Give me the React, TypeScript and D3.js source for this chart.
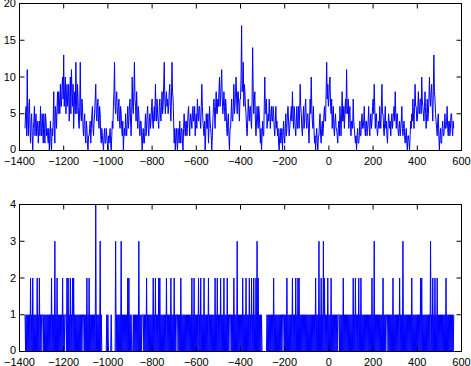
import { useEffect, useRef } from "react";
import * as d3 from "d3";

// sample positions: start at -1375, one value every 2.5 units
const xStart = -1375;
const xStep = 2.5;

// upper panel (one row = 50 units)
const topCounts = [
  3, 5, 6, 2, 11, 4, 2, 6, 7, 3, 1, 4, 5, 2, 0, 3, 4, 6, 2, 4,
  5, 2, 3, 4, 1, 3, 4, 2, 6, 3, 2, 5, 3, 1, 5, 3, 1, 5, 4, 2,
  3, 2, 1, 3, 0, 2, 4, 1, 0, 3, 2, 4, 8, 3, 1, 6, 5, 3, 6, 8,
  5, 8, 7, 5, 9, 6, 6, 9, 10, 7, 13, 6, 8, 10, 5, 7, 9, 6, 7, 9,
  4, 7, 10, 5, 11, 8, 6, 9, 3, 6, 8, 5, 12, 7, 5, 9, 7, 4, 3, 6,
  12, 5, 4, 7, 6, 3, 2, 4, 5, 2, 1, 4, 3, 1, 0, 2, 2, 3, 4, 1,
  3, 5, 6, 3, 2, 4, 5, 7, 9, 5, 4, 6, 7, 4, 3, 6, 5, 2, 1, 3,
  2, 1, 0, 2, 3, 1, 1, 3, 2, 1, 0, 2, 1, 2, 3, 1, 0, 2, 4, 3,
  6, 8, 12, 6, 5, 7, 8, 5, 4, 6, 7, 4, 3, 6, 5, 3, 2, 4, 0, 2,
  3, 2, 5, 3, 2, 4, 6, 3, 4, 6, 7, 4, 2, 5, 10, 6, 5, 8, 12, 7,
  6, 4, 8, 5, 3, 6, 5, 3, 2, 4, 4, 2, 0, 2, 3, 1, 1, 3, 5, 2,
  3, 5, 6, 3, 2, 4, 5, 3, 4, 6, 7, 4, 3, 5, 6, 4, 9, 6, 4, 7,
  5, 4, 3, 6, 7, 5, 4, 6, 8, 5, 6, 9, 12, 7, 5, 7, 8, 6, 7, 5,
  6, 8, 9, 6, 4, 7, 12, 8, 7, 4, 1, 3, 0, 2, 3, 1, 0, 3, 2, 1,
  4, 2, 1, 3, 3, 1, 0, 3, 5, 3, 2, 4, 4, 2, 3, 5, 6, 4, 2, 4,
  5, 4, 3, 5, 6, 4, 4, 6, 2, 4, 5, 3, 7, 5, 4, 6, 6, 4, 3, 6,
  9, 6, 4, 3, 2, 4, 0, 2, 5, 3, 3, 5, 1, 3, 6, 4, 3, 2, 0, 2,
  4, 6, 7, 5, 3, 6, 8, 5, 5, 7, 6, 8, 10, 6, 7, 9, 11, 7, 5, 6,
  8, 6, 4, 7, 6, 3, 2, 4, 5, 2, 0, 3, 3, 5, 7, 4, 4, 6, 9, 5,
  6, 8, 10, 7, 5, 8, 8, 6, 4, 7, 7, 10, 17, 8, 9, 12, 6, 9, 8, 6,
  5, 3, 2, 4, 7, 5, 4, 6, 6, 4, 3, 7, 14, 8, 5, 7, 8, 4, 2, 4,
  6, 4, 3, 6, 5, 3, 1, 3, 0, 2, 4, 2, 2, 6, 10, 5, 5, 7, 3, 4,
  5, 4, 7, 5, 3, 5, 6, 4, 4, 6, 5, 3, 2, 4, 6, 3, 4, 2, 3, 1,
  0, 2, 3, 1, 2, 3, 0, 2, 4, 2, 1, 3, 5, 2, 3, 5, 6, 4, 2, 3,
  4, 5, 6, 4, 8, 5, 3, 6, 5, 3, 2, 4, 6, 3, 4, 6, 3, 5, 9, 6,
  5, 3, 2, 4, 6, 3, 4, 6, 7, 4, 3, 5, 5, 3, 1, 4, 7, 5, 10, 6,
  4, 3, 6, 3, 1, 2, 0, 2, 3, 1, 0, 2, 2, 4, 5, 2, 1, 3, 4, 2,
  3, 5, 6, 4, 4, 8, 12, 7, 9, 6, 7, 9, 10, 6, 5, 7, 3, 5, 6, 3,
  2, 4, 5, 3, 3, 2, 1, 3, 4, 2, 6, 4, 2, 5, 8, 4, 4, 6, 3, 5,
  7, 5, 11, 6, 5, 7, 3, 5, 6, 3, 2, 4, 4, 3, 7, 4, 3, 2, 1, 2,
  0, 2, 3, 1, 1, 2, 4, 2, 2, 4, 5, 3, 3, 4, 6, 3, 2, 4, 4, 2,
  3, 4, 6, 3, 2, 4, 5, 3, 4, 6, 7, 5, 9, 6, 3, 5, 5, 3, 2, 3,
  4, 3, 6, 4, 3, 6, 9, 5, 5, 3, 2, 4, 6, 3, 4, 2, 1, 3, 5, 4,
  3, 4, 2, 4, 5, 3, 4, 5, 6, 4, 8, 5, 3, 5, 5, 3, 2, 3, 4, 2,
  3, 4, 6, 3, 2, 3, 4, 2, 1, 2, 3, 1, 0, 2, 2, 1, 0, 2, 4, 3,
  5, 4, 7, 5, 3, 6, 9, 6, 6, 4, 4, 6, 8, 5, 5, 7, 7, 5, 10, 7,
  6, 5, 4, 6, 8, 5, 3, 5, 7, 4, 5, 7, 10, 7, 6, 8, 9, 6, 4, 8,
  13, 8, 7, 5, 4, 3, 2, 4, 5, 2, 0, 2, 3, 1, 1, 3, 4, 2, 2, 3,
  5, 3, 3, 4, 6, 3, 2, 4, 4, 2, 3, 5, 5, 3, 2, 4, 3,
];

// lower panel
const bottomCounts = [
  1, 0, 1, 0, 1, 0, 1, 0, 1, 0, 2, 0, 1, 0, 2, 0, 1, 0, 1, 0,
  1, 0, 2, 0, 1, 0, 2, 0, 1, 0, 1, 1, 1, 0, 1, 0, 1, 0, 1, 0,
  1, 0, 1, 0, 1, 0, 1, 0, 2, 0, 1, 0, 1, 0, 3, 0, 1, 0, 2, 0,
  1, 0, 1, 0, 1, 0, 1, 0, 2, 0, 1, 0, 1, 1, 1, 0, 2, 0, 2, 0,
  1, 0, 2, 0, 1, 0, 2, 0, 2, 0, 1, 0, 1, 0, 1, 0, 1, 0, 1, 0,
  1, 0, 1, 0, 1, 1, 1, 0, 1, 0, 1, 0, 2, 0, 1, 0, 2, 0, 1, 0,
  1, 0, 1, 0, 1, 0, 1, 0, 4, 0, 1, 0, 1, 0, 1, 0, 3, 0, 1, 0,
  0, 0, 0, 0, 0, 0, 0, 0, 1, 0, 1, 0, 0, 0, 0, 0, 1, 0, 0, 0,
  0, 0, 0, 0, 3, 0, 1, 0, 1, 0, 1, 0, 1, 0, 3, 0, 1, 0, 1, 0,
  1, 0, 1, 0, 1, 0, 2, 0, 2, 0, 1, 0, 1, 0, 0, 0, 1, 0, 1, 0,
  1, 0, 1, 0, 1, 0, 3, 0, 1, 0, 1, 0, 1, 1, 1, 0, 1, 0, 1, 0,
  2, 0, 1, 0, 1, 0, 1, 0, 1, 0, 1, 0, 2, 0, 1, 0, 2, 0, 1, 0,
  1, 0, 2, 0, 2, 0, 1, 0, 1, 0, 1, 0, 1, 0, 1, 0, 2, 0, 1, 0,
  1, 0, 1, 0, 2, 0, 1, 0, 1, 0, 2, 0, 1, 0, 1, 1, 1, 0, 1, 0,
  1, 0, 2, 0, 1, 0, 1, 0, 1, 0, 1, 0, 1, 0, 1, 0, 1, 0, 1, 0,
  1, 0, 2, 0, 1, 0, 2, 0, 1, 0, 1, 0, 1, 0, 2, 0, 1, 0, 2, 0,
  1, 0, 1, 0, 2, 0, 1, 0, 1, 0, 1, 0, 2, 0, 1, 0, 1, 0, 1, 0,
  1, 0, 1, 0, 2, 0, 1, 0, 2, 0, 1, 0, 1, 0, 2, 0, 1, 0, 1, 0,
  2, 0, 1, 0, 1, 0, 2, 0, 1, 0, 1, 1, 1, 0, 1, 0, 1, 0, 2, 0,
  1, 0, 1, 0, 3, 0, 1, 0, 1, 0, 1, 0, 1, 0, 2, 0, 1, 0, 1, 0,
  2, 0, 1, 0, 1, 0, 2, 0, 1, 0, 2, 0, 1, 0, 2, 0, 1, 0, 2, 0,
  3, 0, 2, 0, 1, 0, 1, 0, 1, 0, 0, 0, 0, 0, 0, 0, 0, 0, 1, 0,
  1, 0, 1, 0, 1, 0, 1, 0, 1, 0, 2, 0, 1, 0, 1, 0, 1, 0, 1, 0,
  1, 0, 1, 0, 1, 0, 1, 1, 1, 0, 1, 0, 1, 0, 2, 0, 1, 0, 1, 0,
  1, 0, 1, 0, 2, 0, 1, 0, 1, 0, 2, 0, 1, 0, 2, 0, 2, 0, 1, 0,
  1, 0, 1, 0, 1, 0, 1, 0, 1, 0, 1, 0, 1, 0, 1, 0, 1, 0, 1, 0,
  1, 0, 1, 0, 1, 0, 2, 0, 1, 0, 1, 0, 3, 0, 1, 0, 2, 0, 1, 0,
  3, 0, 2, 0, 1, 0, 1, 0, 2, 0, 1, 0, 1, 0, 2, 0, 1, 0, 1, 0,
  1, 0, 1, 0, 1, 0, 1, 1, 1, 0, 1, 0, 1, 0, 1, 0, 2, 0, 1, 0,
  1, 0, 1, 0, 1, 0, 1, 0, 1, 0, 1, 0, 1, 0, 2, 0, 1, 0, 2, 0,
  1, 0, 1, 0, 2, 0, 1, 0, 2, 0, 1, 0, 1, 0, 1, 0, 1, 0, 1, 0,
  1, 0, 1, 0, 1, 0, 1, 0, 2, 0, 1, 0, 3, 0, 1, 0, 1, 0, 1, 0,
  1, 0, 1, 0, 1, 0, 1, 0, 2, 0, 1, 0, 1, 0, 1, 1, 1, 0, 1, 0,
  1, 0, 1, 0, 1, 0, 2, 0, 1, 0, 1, 0, 1, 0, 1, 0, 1, 0, 2, 0,
  1, 0, 1, 0, 3, 0, 1, 0, 1, 0, 1, 0, 1, 0, 1, 0, 1, 0, 1, 0,
  2, 0, 1, 0, 1, 0, 1, 0, 1, 0, 1, 0, 1, 0, 1, 0, 2, 0, 2, 0,
  1, 0, 1, 0, 1, 0, 1, 0, 1, 0, 1, 0, 1, 0, 3, 0, 1, 0, 2, 0,
  1, 0, 2, 0, 1, 0, 2, 0, 1, 0, 1, 0, 1, 0, 1, 0, 1, 0, 1, 0,
  1, 0, 2, 0, 1, 0, 1, 0, 1, 0, 1, 0, 1, 0, 1, 0, 1,
];

const xTicks = [-1400, -1200, -1000, -800, -600, -400, -200, 0, 200, 400, 600];
const topYTicks = [0, 5, 10, 15, 20];
const bottomYTicks = [0, 1, 2, 3, 4];

const fmt = (v: number) => (v < 0 ? "\u2212" + Math.abs(v) : String(v));

const App = () => {
  const svgRef = useRef<SVGSVGElement>(null);

  useEffect(() => {
    const svg = d3.select(svgRef.current);
    svg.selectAll("*").remove();

    const x = d3.scaleLinear().domain([-1400, 600]).range([19.5, 461.5]);

    const panel = (values: number[], yTicks: number[], top: number, bottom: number, labelDy: number) => {
      const y = d3
        .scaleLinear()
        .domain([0, yTicks[yTicks.length - 1]])
        .range([bottom, top]);
      const g = svg.append("g");

      const line = d3
        .line<number>()
        .x((d, i) => x(xStart + i * xStep))
        .y((d) => y(d));

      g.append("path")
        .datum(values)
        .attr("fill", "none")
        .attr("stroke", "#0000ff")
        .attr("stroke-width", 1)
        .attr("d", line);

      // box
      g.append("rect")
        .attr("x", 19.5)
        .attr("y", top)
        .attr("width", 442)
        .attr("height", bottom - top)
        .attr("fill", "none")
        .attr("stroke", "#000");

      // x ticks, inward on bottom and top
      xTicks.forEach((t) => {
        g.append("line")
          .attr("x1", x(t)).attr("x2", x(t))
          .attr("y1", bottom).attr("y2", bottom - 5)
          .attr("stroke", "#000");
        g.append("line")
          .attr("x1", x(t)).attr("x2", x(t))
          .attr("y1", top).attr("y2", top + 5)
          .attr("stroke", "#000");
        g.append("text")
          .attr("x", x(t))
          .attr("y", bottom + labelDy)
          .attr("text-anchor", "middle")
          .attr("font-family", "Liberation Sans, Arial, sans-serif")
          .attr("font-size", 11)
          .text(fmt(t));
      });

      // y ticks, inward on left and right
      yTicks.forEach((t) => {
        g.append("line")
          .attr("x1", 19.5).attr("x2", 24.5)
          .attr("y1", y(t)).attr("y2", y(t))
          .attr("stroke", "#000");
        g.append("line")
          .attr("x1", 461.5).attr("x2", 456.5)
          .attr("y1", y(t)).attr("y2", y(t))
          .attr("stroke", "#000");
        g.append("text")
          .attr("x", 16)
          .attr("y", y(t) + (t === 0 ? 2.5 : 3.5))
          .attr("text-anchor", "end")
          .attr("font-family", "Liberation Sans, Arial, sans-serif")
          .attr("font-size", 11)
          .text(fmt(t));
      });
    };

    panel(topCounts, topYTicks, 3.5, 150.5, 14.5);
    panel(bottomCounts, bottomYTicks, 204.5, 351.5, 14);
  }, []);

  return (
    <svg
      ref={svgRef}
      width={471}
      height={366}
      style={{ position: "absolute", left: 0, top: 0, background: "#fff" }}
    ></svg>
  );
};

export default App;
